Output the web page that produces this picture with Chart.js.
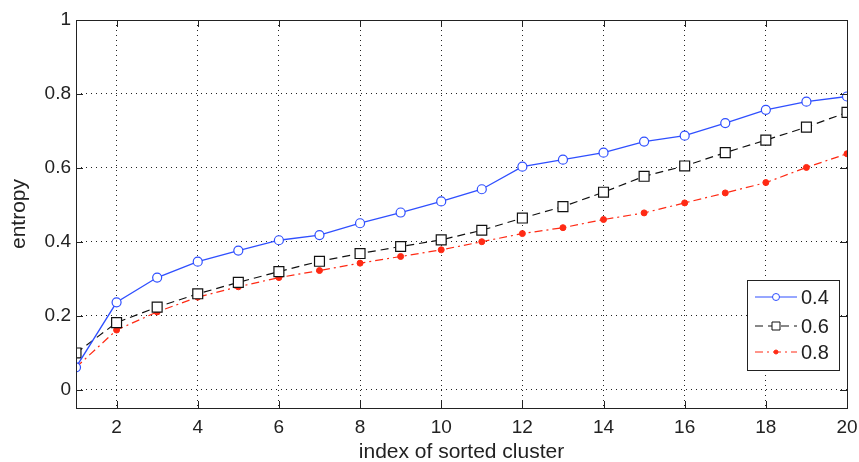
<!DOCTYPE html>
<html>
<head>
<meta charset="utf-8">
<script src="https://cdn.jsdelivr.net/npm/chart.js@4"></script>
<style>
  html, body { margin: 0; padding: 0; background: #fff; }
  #wrap { width: 859px; height: 462px; }
</style>
</head>
<body>
<div id="wrap"><canvas id="entropyChart" width="859" height="462"></canvas></div>
<script>
// sorted cluster index on x, entropy per threshold on y
var clusterIndex = [1, 2, 3, 4, 5, 6, 7, 8, 9, 10, 11, 12, 13, 14, 15, 16, 17, 18, 19, 20];
var entropy04 = [0.060, 0.236, 0.303, 0.346, 0.376, 0.404, 0.418, 0.450, 0.479, 0.509,
                 0.542, 0.603, 0.622, 0.641, 0.671, 0.687, 0.721, 0.757, 0.779, 0.793];
var entropy06 = [0.099, 0.181, 0.223, 0.259, 0.290, 0.319, 0.347, 0.368, 0.387, 0.405,
                 0.431, 0.464, 0.495, 0.534, 0.577, 0.605, 0.641, 0.675, 0.710, 0.750];
var entropy08 = [0.060, 0.161, 0.210, 0.250, 0.278, 0.303, 0.322, 0.342, 0.360, 0.378,
                 0.400, 0.422, 0.438, 0.460, 0.478, 0.505, 0.532, 0.560, 0.601, 0.638];
var seriesLabels = ['0.4', '0.6', '0.8'];
var xTicks = [2, 4, 6, 8, 10, 12, 14, 16, 18, 20];
var yTicks = [0, 0.2, 0.4, 0.6, 0.8, 1];

var FONT = 'Liberation Sans, Arial, sans-serif';

function toPoints(values) {
  return values.map(function(v, i) { return { x: clusterIndex[i], y: v }; });
}

// box around the axes plus inward tick marks, like a matlab figure
var axesBox = {
  id: 'axesBox',
  afterDatasetsDraw: function(chart) {
    var ctx = chart.ctx, a = chart.chartArea;
    var xs = chart.scales.x, ys = chart.scales.y;
    ctx.save();
    ctx.strokeStyle = '#222';
    ctx.lineWidth = 1;
    ctx.beginPath();
    xTicks.forEach(function(t) {
      var px = Math.round(xs.getPixelForValue(t)) + 0.5;
      ctx.moveTo(px, a.bottom); ctx.lineTo(px, a.bottom - 7);
      ctx.moveTo(px, a.top); ctx.lineTo(px, a.top + 7);
    });
    yTicks.forEach(function(t) {
      var py = Math.round(ys.getPixelForValue(t)) + 0.5;
      ctx.moveTo(a.left, py); ctx.lineTo(a.left + 7, py);
      ctx.moveTo(a.right, py); ctx.lineTo(a.right - 7, py);
    });
    ctx.stroke();
    ctx.strokeRect(Math.round(a.left) + 0.5, Math.round(a.top) + 0.5,
                   Math.round(a.right - a.left), Math.round(a.bottom - a.top));
    ctx.restore();
  }
};

// legend drawn inside the plot, lower right
var boxLegend = {
  id: 'boxLegend',
  afterDraw: function(chart) {
    var ctx = chart.ctx;
    var x0 = 747, y0 = 280, w = 92, h = 90;
    ctx.save();
    ctx.fillStyle = '#fff';
    ctx.fillRect(x0, y0, w, h);
    ctx.strokeStyle = '#222';
    ctx.lineWidth = 1;
    ctx.strokeRect(x0 + 0.5, y0 + 0.5, w, h);
    var rows = [297, 326, 352];
    chart.data.datasets.forEach(function(ds, i) {
      var y = rows[i];
      ctx.strokeStyle = ds.borderColor;
      ctx.lineWidth = 1;
      ctx.setLineDash(ds.borderDash || []);
      ctx.beginPath();
      ctx.moveTo(755, y); ctx.lineTo(797, y);
      ctx.stroke();
      ctx.setLineDash([]);
      ctx.fillStyle = ds.pointBackgroundColor;
      ctx.strokeStyle = ds.pointBorderColor;
      ctx.beginPath();
      if (ds.pointStyle === 'rect') {
        ctx.rect(772, y - 4, 8, 8);
      } else {
        ctx.arc(776, y, ds.pointRadius - 1, 0, Math.PI * 2);
      }
      ctx.fill();
      ctx.stroke();
      ctx.fillStyle = '#222';
      ctx.font = '20px ' + FONT;
      ctx.textBaseline = 'middle';
      ctx.fillText(ds.label, 801, y + 1);
    });
    ctx.restore();
  }
};

var ctx = document.getElementById('entropyChart').getContext('2d');
new Chart(ctx, {
  type: 'line',
  data: {
    datasets: [{
      label: seriesLabels[0],
      data: toPoints(entropy04),
      borderColor: '#2f4fff',
      borderWidth: 1.3,
      pointStyle: 'circle',
      pointRadius: 4.5,
      pointBorderColor: '#2f4fff',
      pointBackgroundColor: '#fff',
      pointBorderWidth: 1.2
    }, {
      label: seriesLabels[1],
      data: toPoints(entropy06),
      borderColor: '#111',
      borderWidth: 1.2,
      borderDash: [8, 5],
      pointStyle: 'rect',
      pointRadius: 7,
      pointBorderColor: '#111',
      pointBackgroundColor: '#fff',
      pointBorderWidth: 1.2
    }, {
      label: seriesLabels[2],
      data: toPoints(entropy08),
      borderColor: '#ff2a14',
      borderWidth: 1.2,
      borderDash: [8, 4, 2, 4],
      pointStyle: 'circle',
      pointRadius: 3,
      pointBorderColor: '#ff2a14',
      pointBackgroundColor: '#ff2a14',
      pointBorderWidth: 1
    }]
  },
  options: {
    responsive: false,
    animation: false,
    layout: { padding: { top: 20, right: 12, left: 0, bottom: 0 } },
    plugins: {
      legend: { display: false },
      tooltip: { enabled: false }
    },
    scales: {
      x: {
        type: 'linear',
        min: 1,
        max: 20,
        afterBuildTicks: function(s) { s.ticks = xTicks.map(function(v) { return { value: v }; }); },
        afterFit: function(s) { s.height = 54; s.paddingLeft = 0; s.paddingRight = 0; },
        grid: { color: '#222', lineWidth: 1, drawTicks: false },
        border: { display: false, dash: [1, 4] },
        ticks: { color: '#222', font: { family: FONT, size: 19 }, padding: 8, maxRotation: 0 },
        title: {
          display: true,
          text: 'index of sorted cluster',
          color: '#222',
          font: { family: FONT, size: 21 },
          padding: { top: 0, bottom: -3 }
        }
      },
      y: {
        min: -0.05,
        max: 1,
        afterBuildTicks: function(s) { s.ticks = yTicks.map(function(v) { return { value: v }; }); },
        afterFit: function(s) { s.width = 76; s.paddingTop = 0; s.paddingBottom = 0; },
        grid: { color: '#222', lineWidth: 1, drawTicks: false },
        border: { display: false, dash: [1, 4] },
        ticks: {
          color: '#222',
          font: { family: FONT, size: 19 },
          padding: 5,
          callback: function(v) { return String(+v.toFixed(1)); }
        },
        title: {
          display: true,
          text: 'entropy',
          color: '#222',
          font: { family: FONT, size: 21 },
          padding: { top: 7, bottom: 0 }
        }
      }
    }
  },
  plugins: [axesBox, boxLegend]
});
</script>
</body>
</html>
